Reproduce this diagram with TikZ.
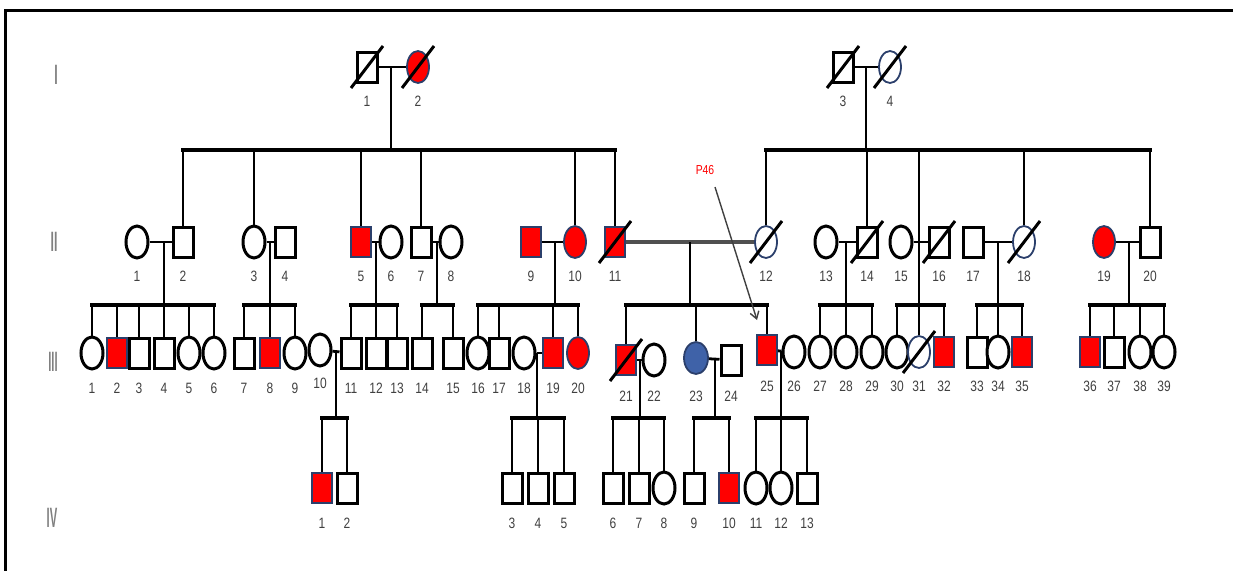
\documentclass[tikz,border=0pt]{standalone}
\usepackage{fontspec}
\setmainfont{Liberation Sans}[FakeStretch=0.8]
\usetikzlibrary{shapes.geometric,arrows.meta}
\definecolor{nvy}{RGB}{43,63,107}
\definecolor{blu}{RGB}{63,98,168}
\definecolor{labc}{RGB}{64,64,64}
\definecolor{genc}{RGB}{128,128,128}
\definecolor{affr}{RGB}{255,0,0}
\definecolor{marg}{RGB}{80,80,80}
\tikzset{
 sq/.style={rectangle,draw=black,line width=3pt,fill=white,minimum width=20pt,minimum height=30pt,inner sep=0pt},
 ci/.style={ellipse,draw=black,line width=3pt,fill=white,minimum width=22pt,minimum height=32pt,inner sep=0pt},
 aff/.style={fill=affr,draw=nvy,line width=1.8pt},
 nv/.style={draw=nvy,line width=1.8pt},
 bl/.style={fill=blu,draw=nvy,line width=1.8pt,minimum width=24pt},
 lab/.style={text=labc,font=\fontsize{15}{15}\selectfont,inner sep=0pt},
 glab/.style={text=genc,font=\fontsize{28}{28}\selectfont\bfseries,inner sep=0pt},
 mar/.style={line width=2.8pt},
 drop/.style={line width=2.6pt},
 sib/.style={line width=4pt,line cap=rect},
 slashl/.style={line width=3pt},
}
\newcommand\pp[6]{\node[#2] (#1) at (#3,#4) {};\node[lab] (#1l) at (#3,#6) {#5};}
\newcommand\dead[1]{\draw[slashl] ([shift={(-16,21)}]#1.center) -- ([shift={(16,-21)}]#1.center);}
\begin{document}
\begin{tikzpicture}[x=1pt,y=-1pt]
\useasboundingbox (0,0) rectangle (1233,570);
\draw[line width=3pt] (5,572) -- (5,10) -- (1235,10);
% generation labels
\node[glab] (gI) at (56,75) {\scalebox{0.55}[1]{I}};
\node[glab] (gII) at (54,242) {\scalebox{0.55}[1]{II}};
\node[glab] (gIII) at (53,362) {\scalebox{0.5}[1]{III}};
\node[glab] (gIV) at (52,518) {\scalebox{0.5}[1]{IV}};
% generation I
\pp{I1}{sq}{367}{67}{1}{101}
\pp{I2}{ci,aff}{418}{67}{2}{101}
\pp{I3}{sq}{843}{67}{3}{101}
\pp{I4}{ci,nv}{890}{67}{4}{101}
% generation II
\pp{II1}{ci}{137}{242}{1}{276}
\pp{II2}{sq}{183}{242}{2}{276}
\pp{II3}{ci}{254}{242}{3}{276}
\pp{II4}{sq}{285}{242}{4}{276}
\pp{II5}{sq,aff}{361}{242}{5}{276}
\pp{II6}{ci}{391}{242}{6}{276}
\pp{II7}{sq}{421}{242}{7}{276}
\pp{II8}{ci}{451}{242}{8}{276}
\pp{II9}{sq,aff}{531}{242}{9}{276}
\pp{II10}{ci,aff}{575}{242}{10}{276}
\pp{II11}{sq,aff}{615}{242}{11}{276}
\pp{II12}{ci,nv}{766}{242}{12}{276}
\pp{II13}{ci}{826}{242}{13}{276}
\pp{II14}{sq}{867}{242}{14}{276}
\pp{II15}{ci}{901}{242}{15}{276}
\pp{II16}{sq}{939}{242}{16}{276}
\pp{II17}{sq}{973}{242}{17}{276}
\pp{II18}{ci,nv}{1024}{242}{18}{276}
\pp{II19}{ci,aff}{1104}{242}{19}{276}
\pp{II20}{sq}{1150}{242}{20}{276}
% generation III
\pp{III1}{ci}{92}{353}{1}{388}
\pp{III2}{sq,aff}{117}{353}{2}{388}
\pp{III3}{sq}{139}{353}{3}{388}
\pp{III4}{sq}{164}{353}{4}{388}
\pp{III5}{ci}{189}{353}{5}{388}
\pp{III6}{ci}{214}{353}{6}{388}
\pp{III7}{sq}{244}{353}{7}{388}
\pp{III8}{sq,aff}{270}{353}{8}{388}
\pp{III9}{ci}{295}{353}{9}{388}
\pp{III10}{ci}{320}{350}{10}{383}
\pp{III11}{sq}{351}{353}{11}{388}
\pp{III12}{sq}{376}{353}{12}{388}
\pp{III13}{sq}{397}{353}{13}{388}
\pp{III14}{sq}{422}{353}{14}{388}
\pp{III15}{sq}{453}{353}{15}{388}
\pp{III16}{ci}{478}{353}{16}{388}
\pp{III17}{sq}{499}{353}{17}{388}
\pp{III18}{ci}{524}{353}{18}{388}
\pp{III19}{sq,aff}{553}{353}{19}{388}
\pp{III20}{ci,aff}{578}{353}{20}{388}
\pp{III21}{sq,aff}{626}{360}{21}{396}
\pp{III22}{ci}{654}{360}{22}{396}
\pp{III23}{ci,bl}{696}{358}{23}{396}
\pp{III24}{sq}{731}{360}{24}{396}
\pp{III25}{sq,aff}{767}{350}{25}{386}
\pp{III26}{ci}{794}{352}{26}{386}
\pp{III27}{ci}{820}{352}{27}{386}
\pp{III28}{ci}{846}{352}{28}{386}
\pp{III29}{ci}{872}{352}{29}{386}
\pp{III30}{ci}{897}{352}{30}{386}
\pp{III31}{ci,nv}{919}{352}{31}{386}
\pp{III32}{sq,aff}{944}{352}{32}{386}
\pp{III33}{sq}{977}{352}{33}{386}
\pp{III34}{ci}{998}{352}{34}{386}
\pp{III35}{sq,aff}{1022}{352}{35}{386}
\pp{III36}{sq,aff}{1090}{352}{36}{386}
\pp{III37}{sq}{1114}{352}{37}{386}
\pp{III38}{ci}{1140}{352}{38}{386}
\pp{III39}{ci}{1164}{352}{39}{386}
% generation IV
\pp{IV1}{sq,aff}{322}{488}{1}{523}
\pp{IV2}{sq}{347}{488}{2}{523}
\pp{IV3}{sq}{512}{488}{3}{523}
\pp{IV4}{sq}{538}{488}{4}{523}
\pp{IV5}{sq}{564}{488}{5}{523}
\pp{IV6}{sq}{613}{488}{6}{523}
\pp{IV7}{sq}{639}{488}{7}{523}
\pp{IV8}{ci}{664}{488}{8}{523}
\pp{IV9}{sq}{694}{488}{9}{523}
\pp{IV10}{sq,aff}{729}{488}{10}{523}
\pp{IV11}{ci}{756}{488}{11}{523}
\pp{IV12}{ci}{781}{488}{12}{523}
\pp{IV13}{sq}{807}{488}{13}{523}
% marriages
\foreach \a/\b in {I1/I2,I3/I4,II1/II2,II3/II4,II5/II6,II7/II8,II9/II10,II13/II14,II15/II16,II17/II18,II19/II20,III10/III11,III18/III19,III21/III22,III23/III24,III25/III26}
  \draw[mar] (\a) -- (\b);
\draw[line width=4pt,draw=marg] (II11) -- (II12);
% sibship levels
\coordinate (yII) at (0,150);
\coordinate (yIII) at (0,305);
\coordinate (yIV) at (0,418);
% descent lines: marriage point / sibship point
\foreach \x/\y/\s in {391/67/yII,866/67/yII,164/242/yIII,270/242/yIII,376/242/yIII,437/242/yIII,555/242/yIII,690/242/yIII,846/242/yIII,998/242/yIII,1129/242/yIII,336/350/yIV,537/353/yIV,640/360/yIV,715/360/yIV,781/351/yIV}
  {\coordinate (m) at (\x,\y); \draw[drop] (m) -- (m |- \s);}
% line from generation I sibship through II-15/16 to their children
\coordinate (d1516) at (919,150);
\draw[drop] (d1516) -- (d1516 |- yIII);
% sibship lines with drops
\foreach \f/\l/\s/\kids in {
  II2/II11/yII/{II2,II3,II5,II7,II10,II11},
  II12/II20/yII/{II12,II14,II18,II20},
  III1/III6/yIII/{III1,III2,III3,III4,III5,III6},
  III7/III9/yIII/{III7,III8,III9},
  III11/III13/yIII/{III11,III12,III13},
  III14/III15/yIII/{III14,III15},
  III16/III20/yIII/{III16,III17,III19,III20},
  III21/III25/yIII/{III21,III23,III25},
  III27/III29/yIII/{III27,III28,III29},
  III30/III32/yIII/{III30,III31,III32},
  III33/III35/yIII/{III33,III34,III35},
  III36/III39/yIII/{III36,III37,III38,III39},
  IV1/IV2/yIV/{IV1,IV2},
  IV3/IV5/yIV/{IV3,IV4,IV5},
  IV6/IV8/yIV/{IV6,IV7,IV8},
  IV9/IV10/yIV/{IV9,IV10},
  IV11/IV13/yIV/{IV11,IV12,IV13}}
{
  \draw[sib] (\f.north |- \s) -- (\l.north |- \s);
  \foreach \k in \kids {\draw[drop] (\k.north |- \s) -- (\k.north);}
}
% deceased
\foreach \n in {I1,I2,I3,I4,II11,II12,II14,II16,II18,III21,III31} {\dead{\n}}
% proband arrow
\node[text=affr,font=\fontsize{13}{13}\selectfont,inner sep=0pt] (p46) at (705,170) {P46};
\coordinate (pa) at (715,187);
\coordinate (pe) at (757,320);
\draw[line width=1.4pt,draw=labc,-{Straight Barb[length=7pt,width=9pt]}] (pa) -- (pe);
\end{tikzpicture}
\end{document}
